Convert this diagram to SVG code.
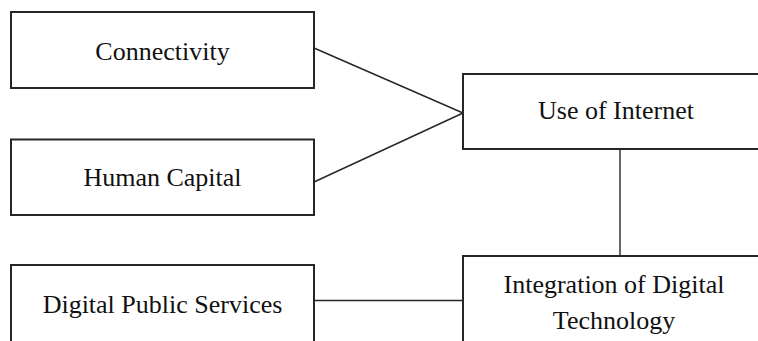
<svg xmlns="http://www.w3.org/2000/svg" width="758" height="341" viewBox="0 0 758 341">
<style>
.box{fill:#fff;stroke:#262626;stroke-width:2}
.lbl{font-family:"Liberation Serif","Times New Roman",serif;font-size:26px;fill:#111;text-anchor:middle}
.con{stroke:#262626;stroke-width:1.4;fill:none}
</style>
<rect width="758" height="341" fill="#fff"/>
<g id="connectors">
<line class="con" x1="314" y1="48" x2="463" y2="113"/>
<line class="con" x1="314" y1="182" x2="463" y2="113"/>
<line class="con" x1="620" y1="149" x2="620" y2="256"/>
<line class="con" x1="314" y1="300.5" x2="463" y2="300.5"/>
</g>
<g id="connectivity">
<rect class="box" x="11" y="12" width="303" height="76"/>
<text class="lbl" x="162.5" y="60">Connectivity</text>
</g>
<g id="human-capital">
<rect class="box" x="11" y="139.5" width="303" height="75.5"/>
<text class="lbl" x="162.5" y="186">Human Capital</text>
</g>
<g id="digital-public-services">
<rect class="box" x="11" y="265" width="303" height="90"/>
<text class="lbl" x="162.5" y="312.5">Digital Public Services</text>
</g>
<g id="use-of-internet">
<rect class="box" x="463" y="74" width="320" height="75"/>
<text class="lbl" x="616" y="119">Use of Internet</text>
</g>
<g id="integration-of-digital-technology">
<rect class="box" x="463" y="256" width="320" height="100"/>
<text class="lbl" x="614" y="293">Integration of Digital</text>
<text class="lbl" x="614" y="329">Technology</text>
</g>
</svg>
